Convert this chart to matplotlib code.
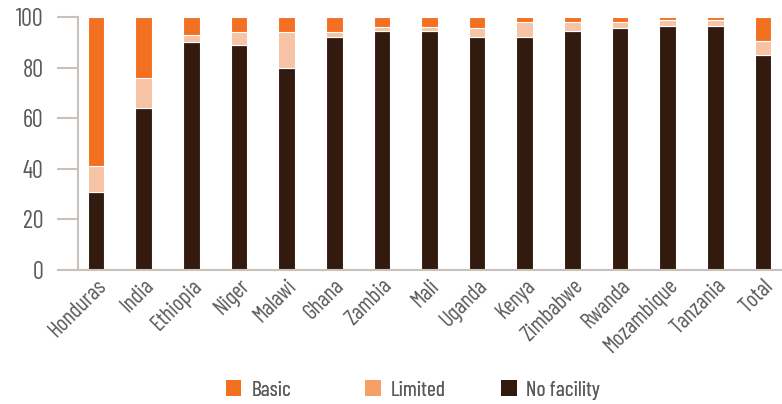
import matplotlib
matplotlib.use("Agg")
import matplotlib.pyplot as plt
from matplotlib.patches import Patch
import numpy as np

categories = ["Honduras", "India", "Ethiopia", "Niger", "Malawi", "Ghana", "Zambia",
              "Mali", "Uganda", "Kenya", "Zimbabwe", "Rwanda", "Mozambique", "Tanzania", "Total"]
no_facility = [31, 64, 90, 89, 80, 92, 94.5, 94.5, 92, 92, 94.5, 95.5, 96.5, 96.5, 85]
limited     = [10, 12, 3, 5, 14, 2, 1.5, 1.5, 3.5, 6, 3.5, 2.5, 2.5, 2.5, 5.5]
basic       = [59, 24, 7, 6, 6, 6, 4, 4, 4.5, 2, 2, 2, 1, 1, 9.5]
yticks = [0, 20, 40, 60, 80, 100]
legend_labels = ["Basic", "Limited", "No facility"]

plt.rcParams['font.family'] = ['Barlow Condensed', 'Fira Sans Extra Condensed', 'Archivo Narrow',
                               'Roboto Condensed', 'Liberation Sans Narrow', 'DejaVu Sans']
TXT = '#5a5a5a'
SPINE = '#c9c2ba'
C_BASIC = '#f37021'
C_LIM_BAR = '#f6c3a5'
C_LIM_LEG = '#f5a068'
C_NOF = '#331a0f'

fig = plt.figure(figsize=(7.82, 4.04), dpi=100)
ax = fig.add_axes([78/782, 1-270/404, 1-78/782, (270-17)/404])

x = np.arange(len(categories))
w = 0.35
nf = np.array(no_facility); lm = np.array(limited); bs = np.array(basic)
ax.bar(x, nf, w, color=C_NOF, edgecolor='white', linewidth=0.8, zorder=2)
ax.bar(x, lm, w, bottom=nf, color=C_LIM_BAR, edgecolor='white', linewidth=0.8, zorder=2)
ax.bar(x, bs, w, bottom=nf+lm, color=C_BASIC, edgecolor='white', linewidth=0.8, zorder=2)

ax.set_xlim(-0.38, len(categories) - 1 + 0.4)
ax.set_ylim(0, 100)
ax.set_yticks(yticks)
ax.set_yticklabels([str(v) for v in yticks], fontsize=17.5, color=TXT)
ax.set_xticks(x)
ax.set_xticklabels(categories, rotation=45, ha='right', va='top', rotation_mode='anchor',
                   fontsize=16, color=TXT)
ax.tick_params(axis='x', length=0, pad=4)
ax.tick_params(axis='y', length=15, width=1.5, color=SPINE, pad=10)
for s in ['top', 'right']:
    ax.spines[s].set_visible(False)
for s in ['left', 'bottom']:
    ax.spines[s].set_color(SPINE)
    ax.spines[s].set_linewidth(1.5)
ax.spines['bottom'].set_zorder(3)

handles = [Patch(facecolor=C_BASIC), Patch(facecolor=C_LIM_LEG), Patch(facecolor=C_NOF)]
xpos = [226, 365, 501]
for h, lab, xp in zip(handles, legend_labels, xpos):
    lg = fig.legend([h], [lab], loc='center left', bbox_to_anchor=(xp/782, 1-390/404),
                    frameon=False, fontsize=15.5, handlelength=0.72, handleheight=0.72,
                    handletextpad=0.45, borderpad=0, borderaxespad=0, labelcolor=TXT)
    fig.add_artist(lg)

fig.savefig('out.png', dpi=100)
